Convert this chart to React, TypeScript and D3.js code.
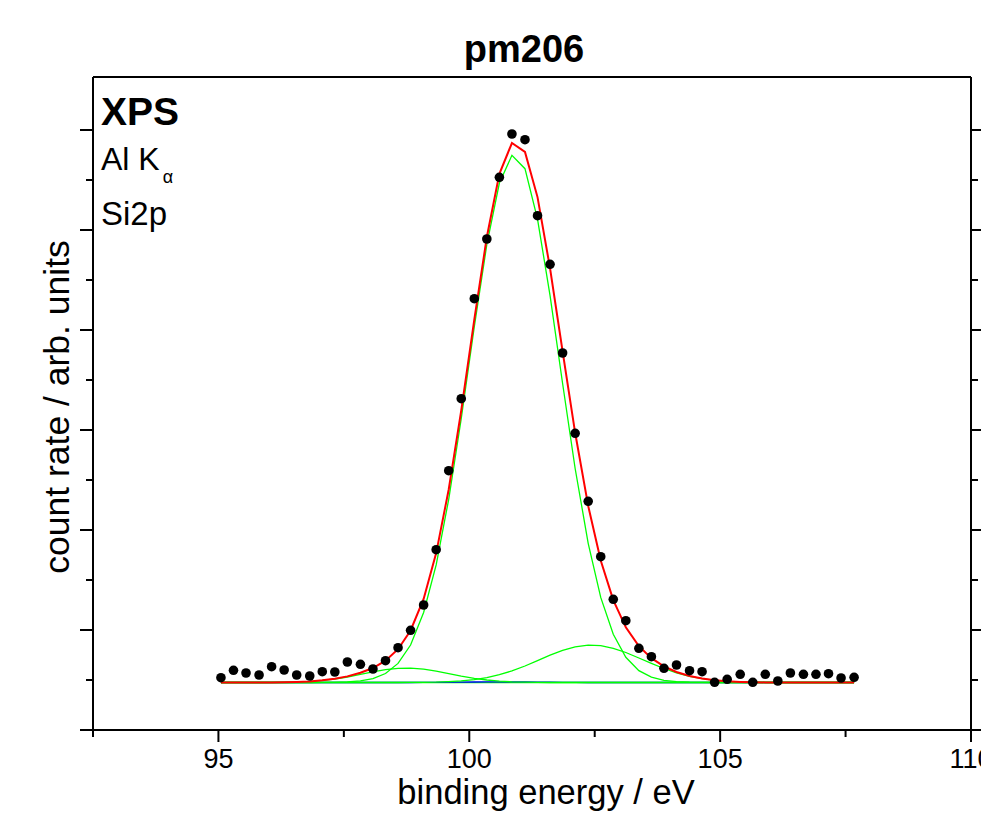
import React from "react";
import * as d3 from "d3";

// binding energy (eV) of each measured channel
const energies = [
  95.05, 95.30, 95.55, 95.81, 96.06, 96.31, 96.56, 96.82, 97.07, 97.32,
  97.57, 97.83, 98.08, 98.33, 98.58, 98.83, 99.09, 99.34, 99.59, 99.84,
  100.10, 100.35, 100.60, 100.85, 101.11, 101.36, 101.61, 101.86, 102.11, 102.37,
  102.62, 102.87, 103.12, 103.38, 103.63, 103.88, 104.13, 104.39, 104.64, 104.89,
  105.14, 105.40, 105.65, 105.90, 106.15, 106.40, 106.66, 106.91, 107.16, 107.41,
  107.67,
];

// measured count rate (arb. units)
const counts = [
  0.523, 0.597, 0.570, 0.550, 0.633, 0.600, 0.550, 0.540, 0.583, 0.580,
  0.680, 0.657, 0.610, 0.693, 0.823, 0.997, 1.250, 1.803, 2.593, 3.313,
  4.313, 4.910, 5.527, 5.960, 5.903, 5.143, 4.657, 3.770, 2.967, 2.287,
  1.733, 1.307, 1.093, 0.817, 0.733, 0.617, 0.650, 0.593, 0.583, 0.477,
  0.507, 0.557, 0.477, 0.557, 0.490, 0.570, 0.557, 0.557, 0.563, 0.520,
  0.527,
];

// fit envelope (red)
const envelope = [
  0.475, 0.475, 0.475, 0.475, 0.476, 0.477, 0.480, 0.486, 0.497, 0.512,
  0.536, 0.572, 0.620, 0.693, 0.808, 0.995, 1.311, 1.769, 2.405, 3.195,
  4.103, 4.930, 5.562, 5.870, 5.781, 5.329, 4.617, 3.787, 2.972, 2.241,
  1.695, 1.299, 1.027, 0.839, 0.719, 0.637, 0.580, 0.540, 0.514, 0.497,
  0.487, 0.481, 0.478, 0.476, 0.475, 0.475, 0.475, 0.475, 0.475, 0.475,
  0.475,
];

// main Si2p component (green)
const peakMain = [
  0.475, 0.475, 0.475, 0.475, 0.475, 0.475, 0.475, 0.475, 0.476, 0.477,
  0.481, 0.491, 0.514, 0.565, 0.666, 0.850, 1.175, 1.651, 2.307, 3.115,
  4.033, 4.856, 5.470, 5.747, 5.613, 5.109, 4.344, 3.465, 2.615, 1.867,
  1.326, 0.957, 0.727, 0.594, 0.528, 0.497, 0.483, 0.478, 0.476, 0.475,
  0.475, 0.475, 0.475, 0.475, 0.475, 0.475, 0.475, 0.475, 0.475, 0.475,
  0.475,
];

// low-energy component (green)
const peakLow = [
  0.475, 0.475, 0.475, 0.475, 0.476, 0.477, 0.480, 0.486, 0.496, 0.510,
  0.530, 0.556, 0.581, 0.603, 0.617, 0.619, 0.609, 0.589, 0.564, 0.539,
  0.516, 0.500, 0.489, 0.482, 0.478, 0.476, 0.475, 0.475, 0.475, 0.475,
  0.475, 0.475, 0.475, 0.475, 0.475, 0.475, 0.475, 0.475, 0.475, 0.475,
  0.475, 0.475, 0.475, 0.475, 0.475, 0.475, 0.475, 0.475, 0.475, 0.475,
  0.475,
];

// high-energy (oxide) component (green)
const peakHigh = [
  0.475, 0.475, 0.475, 0.475, 0.475, 0.475, 0.475, 0.475, 0.475, 0.475,
  0.475, 0.475, 0.475, 0.475, 0.475, 0.476, 0.477, 0.479, 0.484, 0.491,
  0.504, 0.524, 0.553, 0.591, 0.640, 0.694, 0.748, 0.797, 0.832, 0.849,
  0.844, 0.817, 0.775, 0.720, 0.666, 0.615, 0.572, 0.537, 0.513, 0.497,
  0.487, 0.481, 0.478, 0.476, 0.475, 0.475, 0.475, 0.475, 0.475, 0.475,
  0.475,
];

// very small component (blue)
const peakMinor = [
  0.475, 0.475, 0.475, 0.475, 0.475, 0.475, 0.475, 0.475, 0.475, 0.475,
  0.475, 0.475, 0.475, 0.475, 0.475, 0.475, 0.476, 0.477, 0.478, 0.479,
  0.480, 0.481, 0.481, 0.481, 0.480, 0.479, 0.478, 0.477, 0.476, 0.475,
  0.475, 0.475, 0.475, 0.475, 0.475, 0.475, 0.475, 0.475, 0.475, 0.475,
  0.475, 0.475, 0.475, 0.475, 0.475, 0.475, 0.475, 0.475, 0.475, 0.475,
  0.475,
];

// background (green)
const background = [
  0.475, 0.475, 0.475, 0.475, 0.475, 0.475, 0.475, 0.475, 0.475, 0.475,
  0.475, 0.475, 0.475, 0.475, 0.475, 0.475, 0.475, 0.475, 0.475, 0.475,
  0.475, 0.475, 0.475, 0.475, 0.475, 0.475, 0.475, 0.475, 0.475, 0.475,
  0.475, 0.475, 0.475, 0.475, 0.475, 0.475, 0.475, 0.475, 0.475, 0.475,
  0.475, 0.475, 0.475, 0.475, 0.475, 0.475, 0.475, 0.475, 0.475, 0.475,
  0.475,
];

const xMajorTicks = [95, 100, 105, 110];
const xMinorTicks = [92.5, 97.5, 102.5, 107.5];
const yMajorTicks = [0, 1, 2, 3, 4, 5, 6];
const yMinorTicks = [0.5, 1.5, 2.5, 3.5, 4.5, 5.5];

const FONT = "'Liberation Sans', Arial, Helvetica, sans-serif";

export default function App() {
  const W = 981;
  const H = 814;
  const left = 93, right = 971, top = 77, bottom = 730;
  const x = d3.scaleLinear().domain([92.5, 110]).range([left, right]);
  const y = d3.scaleLinear().domain([0, 6.53]).range([bottom, top]);

  const line = d3
    .line<number>()
    .x((_, i) => x(energies[i]))
    .y((d) => y(d));

  const ax = { stroke: "#000", strokeWidth: 2 };

  return (
    <svg
      width={W}
      height={H}
      style={{ position: "absolute", left: 0, top: 0, background: "#fff" }}
      fontFamily={FONT}
    >
      <rect x={0} y={0} width={W} height={H} fill="#fff" />
      {/* frame */}
      <line x1={left} y1={top} x2={right} y2={top} {...ax} />
      <line x1={left} y1={top} x2={left} y2={bottom + 6} {...ax} />
      <line x1={right} y1={top} x2={right} y2={bottom + 10} {...ax} />
      <line x1={left - 13} y1={bottom} x2={right} y2={bottom} {...ax} />

      {/* y ticks left & right */}
      {yMajorTicks.map((t) => (
        <g key={"ym" + t}>
          <line x1={left - 13} x2={left} y1={y(t)} y2={y(t)} {...ax} />
          <line x1={right} x2={right + 13} y1={y(t)} y2={y(t)} {...ax} />
        </g>
      ))}
      {yMinorTicks.map((t) => (
        <g key={"yn" + t}>
          <line x1={left - 7} x2={left} y1={y(t)} y2={y(t)} {...ax} />
          <line x1={right} x2={right + 7} y1={y(t)} y2={y(t)} {...ax} />
        </g>
      ))}

      {/* x ticks */}
      {xMajorTicks.map((t) => (
        <g key={"xm" + t}>
          <line x1={x(t)} x2={x(t)} y1={bottom} y2={bottom + 12} {...ax} />
          <text
            x={x(t)}
            y={768}
            textAnchor="middle"
            fontSize={27}
            fill="#000"
          >
            {t}
          </text>
        </g>
      ))}
      {xMinorTicks.map((t) => (
        <line key={"xn" + t} x1={x(t)} x2={x(t)} y1={bottom} y2={bottom + 7} {...ax} />
      ))}

      {/* fit curves */}
      <path d={line(background) || ""} fill="none" stroke="#00ff00" strokeWidth={1.3} />
      <path d={line(peakMinor) || ""} fill="none" stroke="#0000ff" strokeWidth={1.3} />
      <path d={line(peakLow) || ""} fill="none" stroke="#00ff00" strokeWidth={1.3} />
      <path d={line(peakHigh) || ""} fill="none" stroke="#00ff00" strokeWidth={1.3} />
      <path d={line(peakMain) || ""} fill="none" stroke="#00ff00" strokeWidth={1.3} />
      <path d={line(envelope) || ""} fill="none" stroke="#ff0000" strokeWidth={2} />

      {/* data points */}
      {counts.map((c, i) => (
        <circle key={i} cx={x(energies[i])} cy={y(c)} r={4.8} fill="#000" />
      ))}

      {/* texts */}
      <text x={524} y={62} textAnchor="middle" fontSize={38} fontWeight="bold" fill="#000">
        pm206
      </text>
      <text x={101} y={125} fontSize={39} fontWeight="bold" fill="#000">
        XPS
      </text>
      <text x={101} y={170} fontSize={32} fill="#000">
        Al K
        <tspan fontSize={18} dx={3} dy={13}>α</tspan>
      </text>
      <text x={101} y={225} fontSize={33} fill="#000">
        Si2p
      </text>
      <text x={546} y={804} textAnchor="middle" fontSize={34.5} fill="#000">
        binding energy / eV
      </text>
      <text
        transform="translate(69,407) rotate(-90)"
        textAnchor="middle"
        fontSize={35.5}
        fill="#000"
      >
        count rate / arb. units
      </text>
    </svg>
  );
}
